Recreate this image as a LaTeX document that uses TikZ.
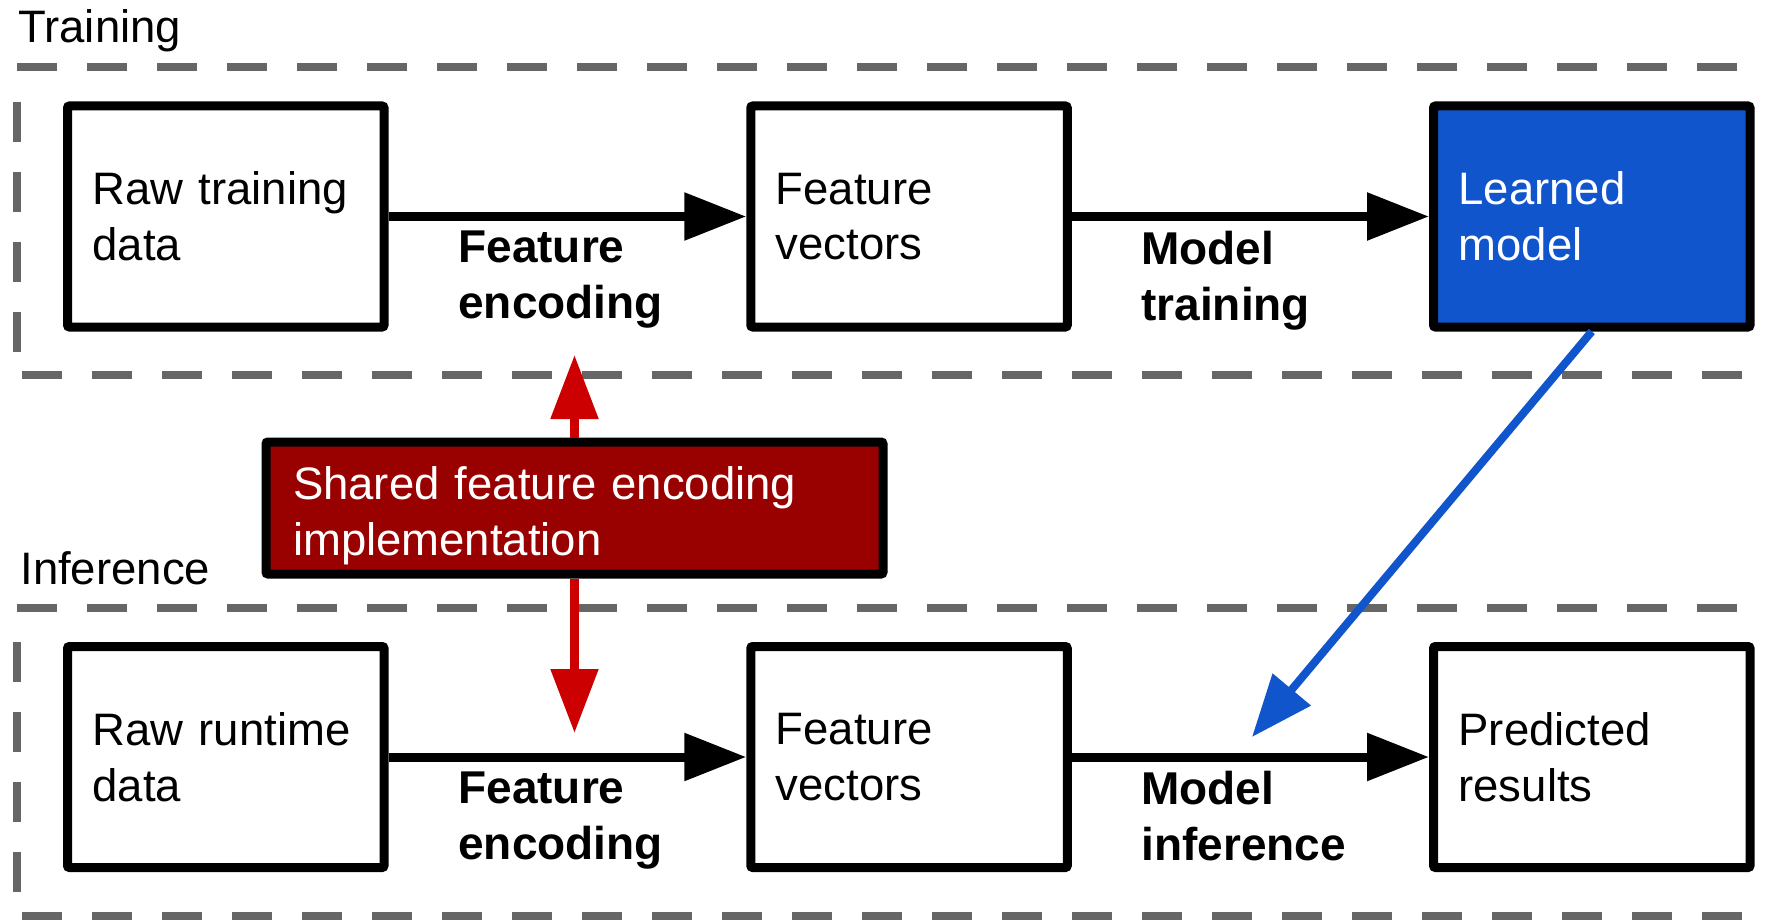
\documentclass[tikz,border=0pt]{standalone}
\usepackage{fontspec}
\setmainfont{Liberation Sans}
\usetikzlibrary{arrows.meta}

\definecolor{framegray}{HTML}{666666}
\definecolor{modelblue}{HTML}{1155CC}
\definecolor{shareddark}{HTML}{990000}
\definecolor{sharedred}{HTML}{CC0000}

\tikzset{
	stage/.style={draw, line width=4.5pt, rounded corners=1pt, minimum width=158.25pt, minimum height=110.5pt,
		text width=133.25pt, inner xsep=12.5pt, align=left, font=\fontsize{22.75}{27.8}\selectfont},
	steplabel/.style={below, yshift=-5pt, inner sep=0pt, text width=109pt, align=left,
		font=\bfseries\fontsize{23}{28}\selectfont},
	title/.style={anchor=base west, inner sep=0pt, font=\fontsize{22.75}{25.9}\selectfont},
	frame/.style={draw=framegray, line width=4pt, dash pattern=on 20pt off 15pt},
	flow/.style={line width=4.5pt, -{Triangle[length=31pt, width=23pt]}},
	share/.style={draw=sharedred, line width=4.3pt, -{Triangle[length=32pt, width=23pt]}},
	deploy/.style={draw=modelblue, line width=4pt, -{Triangle[length=31pt, width=24pt]}}
}

\begin{document}
\begin{tikzpicture}[x=0.5pt, y=-0.5pt]
		\useasboundingbox (0,0) rectangle (1769,920);

		% training frame
		\node[title] (traintitle) at (18,43) {Training};
		\draw[frame] (17,67.5) -- (1765,67.5);
		\draw[frame] (17,101.7) -- (17,360);
		\draw[frame] (21.7,375) -- (1765,375);

		% inference frame
		\node[title] (infertitle) at (20,584) {Inference};
		\draw[frame] (17,608) -- (1765,608);
		\draw[frame] (17,642.2) -- (17,900);
		\draw[frame] (21.7,915.5) -- (1765,915.5);

		% training row
		\node[stage] (rawtrain) at (225.75,216.5) {Raw training\\data};
		\node[stage] (vectrain) at (909,216.5) {Feature\\vectors};
		\node[stage, fill=modelblue, text=white] (model) at (1591.75,216.5) {Learned\\model};
		\draw[flow] (rawtrain) -- node[steplabel] (enctrain) {Feature\\encoding} (vectrain);
		\draw[flow] (vectrain) -- node[steplabel] (fit) {Model\\training} (model);

		% inference row
		\node[stage] (rawrun) at (225.75,757) {Raw runtime\\data};
		\node[stage] (vecrun) at (909,757) {Feature\\vectors};
		\node[stage] (results) at (1591.75,757) {Predicted\\results};
		\draw[flow] (rawrun) -- node[steplabel] (encrun) {Feature\\encoding} (vecrun);
		\draw[flow] (vecrun) -- node[steplabel] (predict) {Model\\inference} (results);

		% shared encoder
		\node[stage, fill=shareddark, text=white, minimum width=308.5pt, minimum height=66pt,
			text width=281.5pt, inner xsep=13.5pt, inner ysep=0pt, text height=24.3pt] (shared) at (574.5,508) {Shared feature encoding\\implementation};
		\coordinate (uptip) at (574.5,355);
		\coordinate (downtip) at (574.5,733);
		\draw[share] (shared.north) -- (uptip);
		\draw[share] (shared.south) -- (downtip);

		% model handed to inference
		\coordinate (hit) at (1252,737);
		\draw[deploy] (model.south) -- (hit);
\end{tikzpicture}
\end{document}
